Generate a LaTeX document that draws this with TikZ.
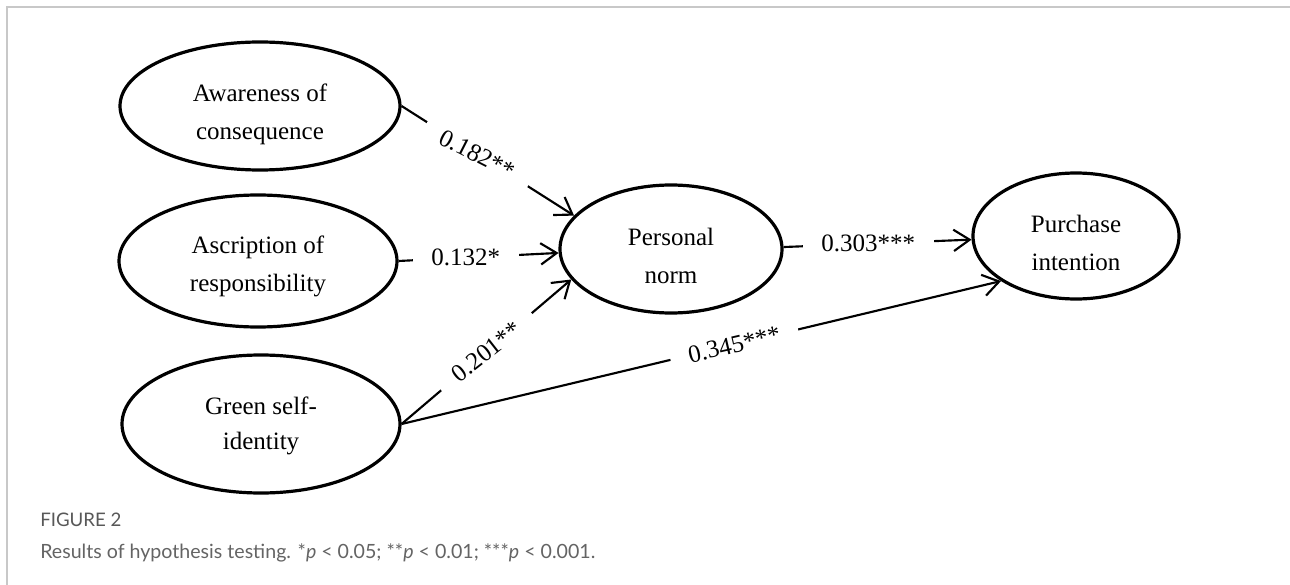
\documentclass[tikz,border=0pt]{standalone}
\usepackage{fontspec}
\setmainfont{Liberation Serif}
\newfontfamily\capfont{Lato}
\usetikzlibrary{arrows.meta,shapes.geometric}
\definecolor{framegray}{RGB}{200,200,200}
\definecolor{headgray}{RGB}{88,88,88}
\definecolor{capgray}{RGB}{100,100,100}
\begin{document}
\begin{tikzpicture}[x=0.75pt,y=-0.75pt,
  construct/.style={ellipse, draw, line width=2.4pt, inner sep=0pt},
  constext/.style={align=center, inner sep=0pt,
    font=\fontsize{18.75}{28.5}\selectfont},
  link/.style={line width=1.6pt, -{Straight Barb[length=12pt,width=16pt]}},
  coef/.style={fill=white, inner xsep=14pt, inner ysep=1pt,
    font=\fontsize{18.75}{22}\selectfont},
  frameline/.style={draw=framegray, line width=1.5pt}
]
\useasboundingbox (0,0) rectangle (1290,585);
\fill[white] (0,0) rectangle (1290,585);
\draw[frameline] (7,585) -- (7,7) -- (1290,7);

% constructs (outline, then its two-line name)
\node[construct, minimum width=210pt, minimum height=96pt] (aw) at (260,106) {};
\node[construct, minimum width=208.5pt, minimum height=99pt] (as) at (258,261) {};
\node[construct, minimum width=208.5pt, minimum height=103.5pt] (gs) at (261,424) {};
\node[construct, minimum width=166.5pt, minimum height=96pt] (pn) at (671,249) {};
\node[construct, minimum width=154.5pt, minimum height=94.5pt] (pi) at (1076,236) {};

\node[constext] (awt) at ([yshift=-6pt]aw.center) {Awareness of\\consequence};
\node[constext] (ast) at ([yshift=-3.8pt]as.center) {Ascription of\\responsibility};
\node[constext, font=\fontsize{18.75}{26.5}\selectfont] (gst) at ([yshift=-1.5pt]gs.center) {Green self-\\identity};
\node[constext] (pnt) at ([yshift=-5pt]pn.center) {Personal\\norm};
\node[constext] (pit) at ([yshift=-5.3pt]pi.center) {Purchase\\intention};

% structural paths with coefficients
\draw[link] (aw.east) -- node[coef, pos=0.44, rotate=-27] {0.182**} (pn.161);
\draw[link] (as.east) -- node[coef, pos=0.42] {0.132*} (pn.182);
\draw[link] (gs.east) -- node[coef, pos=0.5, rotate=38] {0.201**} (pn.197);
\draw[link] (gs.east) -- node[coef, pos=0.555, rotate=13] {0.345***} (pi.211);
\draw[link] (pn.1) -- node[coef, pos=0.45] {0.303***} (pi.182);

% caption
\node[anchor=base west, inner sep=0pt, text=headgray,
  font=\capfont\fontsize{14}{16}\selectfont] (fig) at (40,526) {FIGURE 2};
\node[anchor=base west, inner sep=0pt, text=capgray,
  font=\capfont\fontsize{14.7}{17}\selectfont] (cap) at (40,558)
  {Results of hypothesis testing. *\textit{p} < 0.05; **\textit{p} < 0.01; ***\textit{p} < 0.001.};
\end{tikzpicture}
\end{document}
